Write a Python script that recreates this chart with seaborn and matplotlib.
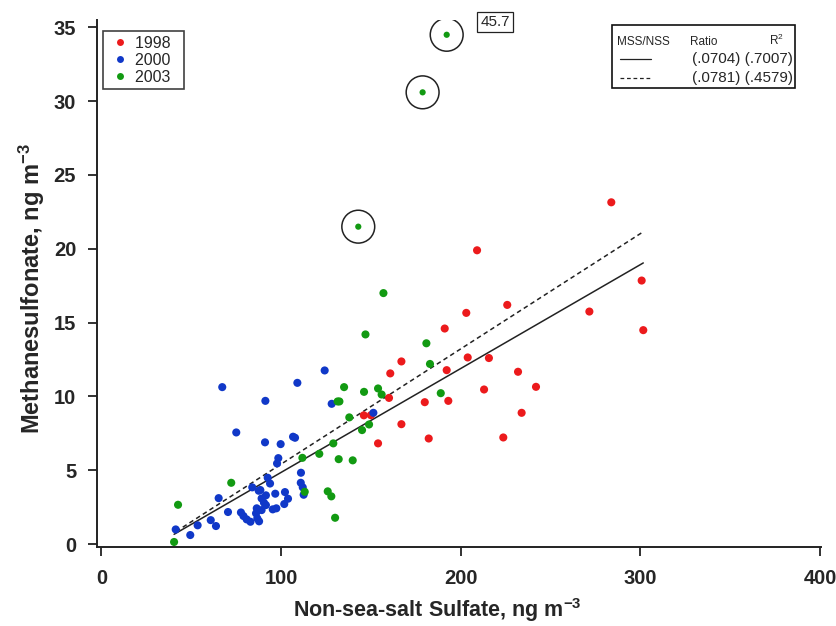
import numpy as np
import pandas as pd
import matplotlib
matplotlib.use("Agg")
import matplotlib.pyplot as plt
import seaborn as sns
from matplotlib.lines import Line2D
from matplotlib.patches import Rectangle

# ---------------- data ----------------
x_1998 = [283.8, 300.7, 271.6, 225.9, 301.6, 231.9, 241.9, 233.9, 223.7, 209.1,
          203.1, 191.1, 203.9, 215.7, 167.0, 160.8, 192.2, 213.0, 160.1, 180.0,
          193.1, 167.0, 182.2, 154.0, 146.1, 150.0]
y_1998 = [23.15, 17.85, 15.75, 16.2, 14.49, 11.67, 10.65, 8.89, 7.22, 19.9,
          15.66, 14.6, 12.64, 12.6, 12.37, 11.56, 11.78, 10.47, 9.9, 9.61,
          9.7, 8.12, 7.15, 6.82, 8.72, 8.73]

x_2000 = [67.3, 91.3, 109.1, 124.3, 128.2, 75.1, 106.7, 107.8, 91.1, 99.8,
          98.5, 97.8, 111.1, 92.6, 93.9, 111.0, 112.1, 112.6, 84.0, 65.3,
          87.6, 88.5, 91.6, 96.8, 102.2, 103.9, 70.5, 77.7, 79.1, 80.9,
          83.0, 86.5, 86.1, 86.8, 87.8, 90.5, 91.6, 95.4, 97.4, 101.8,
          60.9, 63.8, 53.6, 49.5, 41.4, 151.4, 89.2, 89.2]
y_2000 = [10.63, 9.7, 10.92, 11.76, 9.5, 7.56, 7.27, 7.2, 6.89, 6.77,
          5.82, 5.46, 4.83, 4.49, 4.10, 4.15, 3.84, 3.34, 3.84, 3.11,
          3.61, 3.66, 3.3, 3.41, 3.52, 3.07, 2.17, 2.14, 1.90, 1.67,
          1.51, 2.42, 2.08, 1.74, 1.54, 2.80, 2.64, 2.35, 2.42, 2.71,
          1.62, 1.22, 1.27, 0.61, 0.99, 8.89, 3.09, 2.30]

x_2003 = [157.0, 180.9, 182.9, 154.0, 156.0, 188.9, 147.0, 135.1, 146.2, 131.5,
          132.5, 138.0, 149.0, 145.1, 129.1, 121.3, 132.1, 139.9, 111.9, 113.2,
          126.0, 128.0, 130.1, 72.3, 42.7, 40.5]
y_2003 = [17.0, 13.6, 12.2, 10.54, 10.13, 10.22, 14.2, 10.63, 10.31, 9.66,
          9.66, 8.58, 8.10, 7.72, 6.82, 6.11, 5.75, 5.67, 5.84, 3.54,
          3.57, 3.23, 1.78, 4.15, 2.66, 0.14]

# circled 2003 outliers
out_x = [192.2, 178.8, 143.0]
out_y = [34.5, 30.6, 21.5]
out_label = "45.7"

# regression lines (MSS/NSS)
fit_slope = [0.0704, 0.0781]
fit_intercept = [-2.19, -2.40]
fit_r2 = [0.7007, 0.4579]
fit_xrange = [(40.5, 301.6), (41.6, 301.3)]
fit_style = ["-", (0, (3, 2.2))]

years = ["1998", "2000", "2003"]
colors = {"1998": "#ec1a1c", "2000": "#1038c8", "2003": "#129a12"}

df = pd.DataFrame({
    "nss": x_1998 + x_2000 + x_2003,
    "mss": y_1998 + y_2000 + y_2003,
    "year": ["1998"] * len(x_1998) + ["2000"] * len(x_2000) + ["2003"] * len(x_2003),
})
df_out = pd.DataFrame({"nss": out_x, "mss": out_y, "year": ["2003"] * len(out_x)})

# ---------------- figure ----------------
sns.set_style("white")
plt.rcParams["font.family"] = ["Liberation Sans", "DejaVu Sans"]
plt.rcParams["mathtext.fontset"] = "custom"
plt.rcParams["mathtext.rm"] = "Liberation Sans"
plt.rcParams["mathtext.it"] = "Liberation Sans:italic"
plt.rcParams["mathtext.bf"] = "Liberation Sans:bold"

W, H = 837, 626
fig = plt.figure(figsize=(W / 100, H / 100), dpi=100)


def fx(px):
    return px / W


def fy(py):
    return 1 - py / H


ax_l, ax_r, ax_t, ax_b = 97, 821, 20, 547
ax = fig.add_axes([fx(ax_l), fy(ax_b), (ax_r - ax_l) / W, (ax_b - ax_t) / H])

sns.scatterplot(data=df, x="nss", y="mss", hue="year", palette=colors,
                hue_order=years, s=34, linewidth=0, ax=ax, legend=False, zorder=3)
sns.scatterplot(data=df_out, x="nss", y="mss", hue="year", palette=colors,
                s=20, linewidth=0, ax=ax, legend=False, zorder=3)
ax.scatter(out_x, out_y, s=560, facecolors="none", edgecolors="#222222",
           linewidths=1.1, zorder=2)

for sl, ic, xr, ls in zip(fit_slope, fit_intercept, fit_xrange, fit_style):
    xs = np.array(xr)
    ax.plot(xs, sl * xs + ic, color="#222222", lw=1.1, linestyle=ls, zorder=2)

ax.set_xlim(-2.4, 400.5)
ax.set_ylim(-0.2, 35.5)
ax.set_xticks([0, 100, 200, 300, 400])
ax.set_yticks([0, 5, 10, 15, 20, 25, 30, 35])
for s in ["top", "right"]:
    ax.spines[s].set_visible(False)
for s in ["left", "bottom"]:
    ax.spines[s].set_color("#222222")
    ax.spines[s].set_linewidth(1.4)
ax.tick_params(axis="both", direction="out", length=6.5, width=1.3,
               color="#222222", labelsize=14.5, bottom=True, left=True)
ax.tick_params(axis="x", pad=9.5)
ax.tick_params(axis="y", pad=8.5)
for lab in ax.get_xticklabels() + ax.get_yticklabels():
    lab.set_fontweight("bold")

ax.set_xlabel("Non-sea-salt Sulfate, ng m$^{\\mathbf{-3}}$", fontsize=15.5,
              fontweight="bold")
ax.set_ylabel("Methanesulfonate, ng m$^{\\mathbf{-3}}$", fontsize=17,
              fontweight="bold")
ax.xaxis.set_label_coords((437.5 - ax_l) / (ax_r - ax_l), (ax_b - 596) / (ax_b - ax_t))
ax.yaxis.set_label_coords((47 - ax_l) / (ax_r - ax_l), (ax_b - 289) / (ax_b - ax_t))

# year legend
handles = [Line2D([], [], marker="o", linestyle="none", markersize=5,
                  markerfacecolor=colors[y], markeredgewidth=0) for y in years]
leg = ax.legend(handles, years, loc="upper left",
                bbox_to_anchor=(fx(103), fy(31)), bbox_transform=fig.transFigure,
                frameon=True, fancybox=False, edgecolor="#111111", fontsize=11.5,
                handletextpad=0.2, handlelength=1.5, borderpad=0.3,
                labelspacing=0.12, borderaxespad=0)
leg.get_frame().set_linewidth(1.2)
# widen the frame on the right like the original
for t in leg.get_texts():
    t.set_text(t.get_text() + "  ")

# value label for off-scale point
fig.text(fx(495), fy(22), out_label, ha="center", va="center", fontsize=11,
         bbox=dict(boxstyle="square,pad=0.2", facecolor="white",
                   edgecolor="#222222", linewidth=0.9))

# regression info box
fig.add_artist(Rectangle((fx(612), fy(88)), fx(795) - fx(612), fy(25) - fy(88),
                         transform=fig.transFigure, facecolor="white",
                         edgecolor="#111111", linewidth=1.2))
fig.text(fx(617), fy(42), "MSS/NSS", fontsize=8.5, va="center", ha="left")
fig.text(fx(704), fy(42), "Ratio", fontsize=8.5, va="center", ha="center")
fig.text(fx(776), fy(40), "R$^2$", fontsize=8.5, va="center", ha="center")
for i, row_y in enumerate([59, 78]):
    fig.add_artist(Line2D([fx(620), fx(651)], [fy(row_y), fy(row_y)],
                          transform=fig.transFigure, color="#222222", lw=0.9,
                          linestyle=fit_style[i]))
    fig.text(fx(793), fy(row_y), f"(.{int(round(fit_slope[i] * 10000)):04d}) (.{int(round(fit_r2[i] * 10000)):04d})",
             fontsize=11, va="center", ha="right")

fig.savefig("out.png", dpi=100)
